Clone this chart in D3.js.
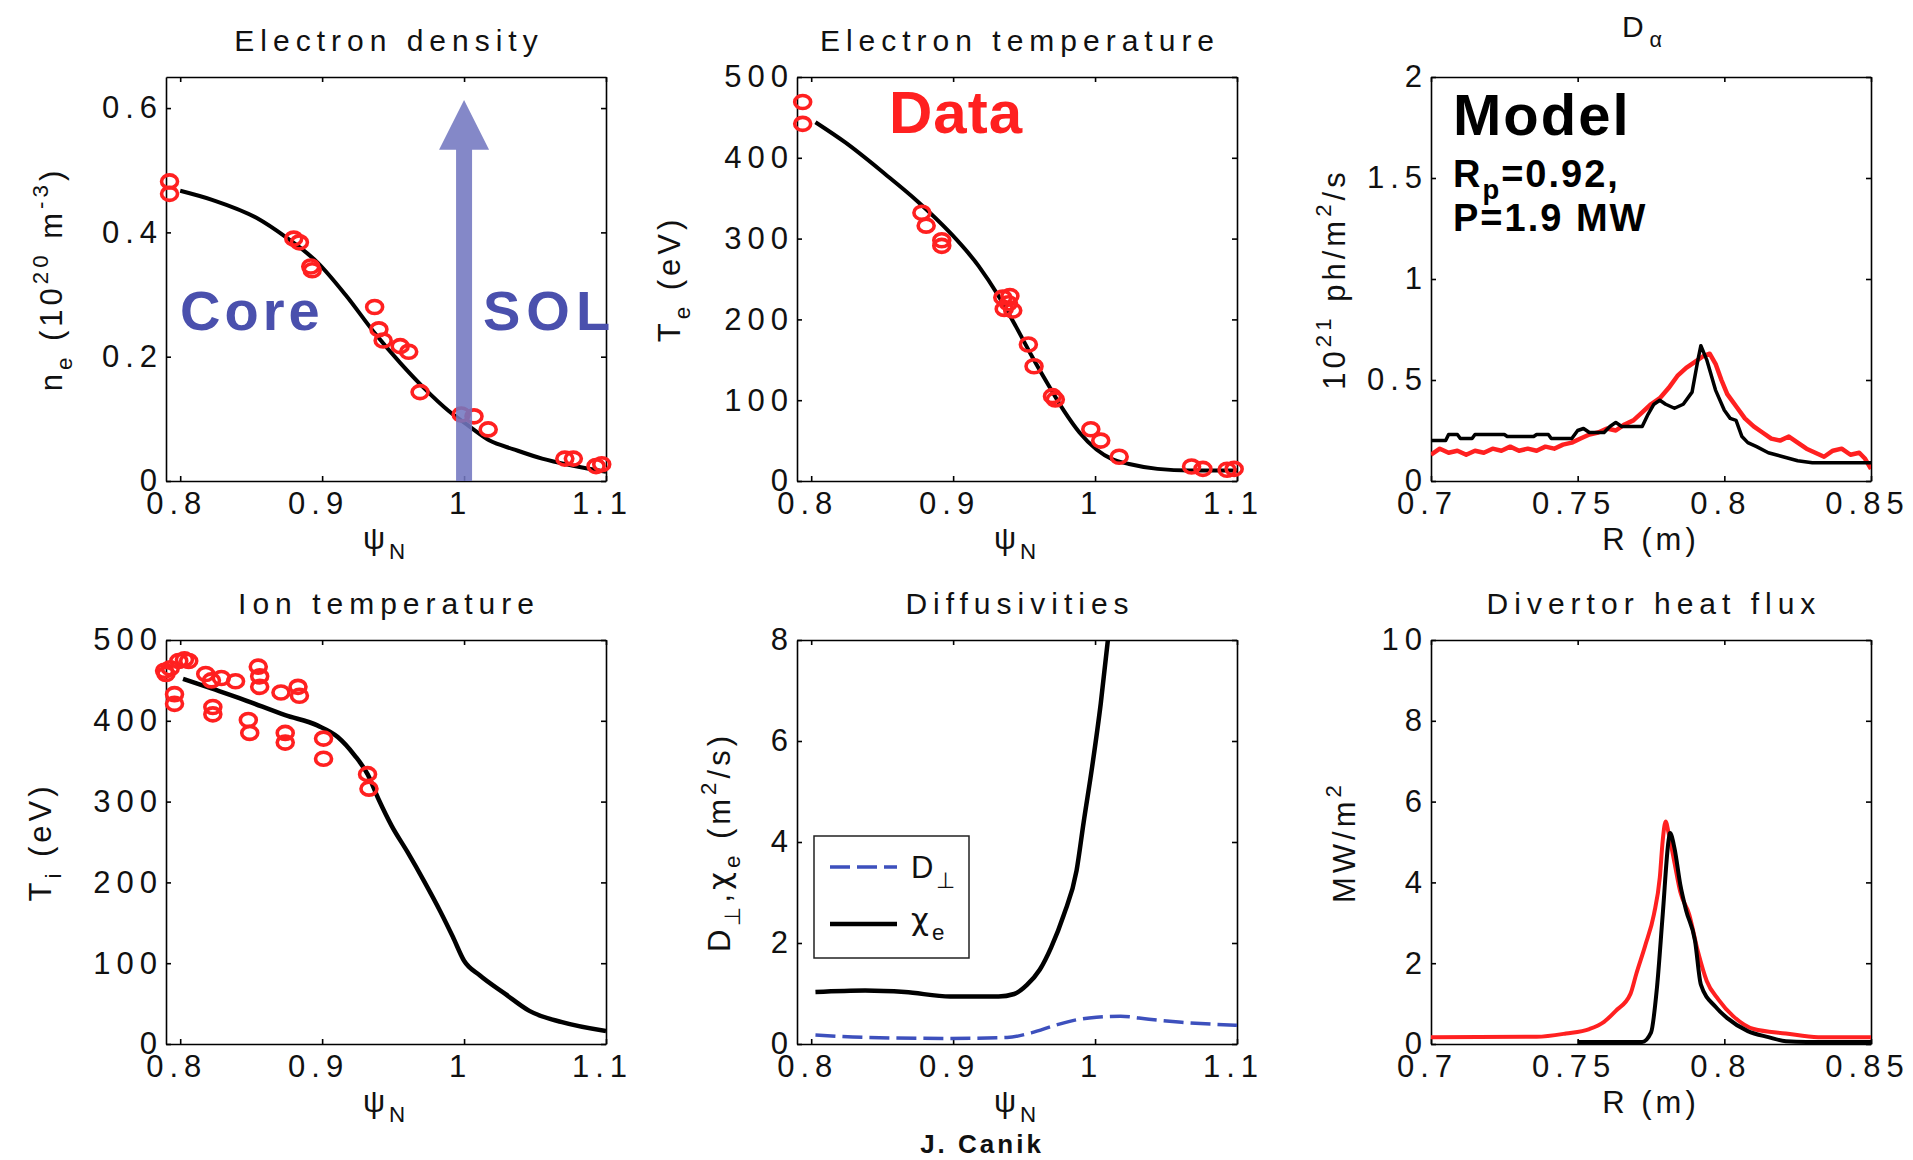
<!DOCTYPE html>
<html lang="en">
<head>
<meta charset="utf-8">
<script src="https://d3js.org/d3.v7.min.js"></script>
<style>
  body { margin: 0; background: #fff; }
  svg text { font-family: "Liberation Sans", Arial, sans-serif; fill: #111; }
  .axis .domain, .axis line { stroke: #000; stroke-width: 1.6; }
  .axis text { font-size: 31px; letter-spacing: 6px; fill: #111; }
  .title { font-size: 30px; letter-spacing: 6px; }
  .lab { font-size: 31px; letter-spacing: 4px; }
  .greek { font-family: "DejaVu Sans", sans-serif; }
</style>
</head>
<body>
<svg id="fig" width="1913" height="1160"></svg>
<script>
// ---- data ----
const psiTicks = [0.8, 0.9, 1, 1.1];
const rTicks = [0.7, 0.75, 0.8, 0.85];

// electron density (1e20 m^-3)
const neModel = [[0.800,0.467],[0.823,0.452],[0.854,0.423],[0.874,0.393],[0.897,0.351],[0.917,0.298],[0.937,0.238],[0.955,0.190],[0.972,0.149],[0.989,0.113],[1.003,0.089],[1.018,0.065],[1.035,0.051],[1.055,0.036],[1.076,0.025],[1.100,0.015]];
const neData = [[0.7925,0.482],[0.7925,0.462],[0.880,0.390],[0.884,0.384],[0.892,0.345],[0.893,0.339],[0.937,0.280],[0.940,0.244],[0.943,0.226],[0.955,0.217],[0.961,0.208],[0.969,0.143],[0.998,0.107],[1.007,0.104],[1.017,0.083],[1.071,0.036],[1.077,0.036],[1.093,0.024],[1.097,0.027]];
const sepArrow = {psi: 1.0, base: 0.533, tip: 0.613};

// electron temperature (eV)
const teModel = [[0.803,444],[0.824,419],[0.852,380],[0.875,346],[0.898,307],[0.918,266],[0.932,229],[0.944,192],[0.955,156],[0.967,119],[0.978,87],[0.989,60],[1.001,39],[1.012,27],[1.024,21],[1.044,15],[1.067,13],[1.100,13]];
const teData = [[0.794,469],[0.794,442],[0.878,332],[0.881,316],[0.892,298],[0.892,291],[0.935,227],[0.939,220],[0.942,211],[0.940,229],[0.936,213],[0.953,169],[0.957,142],[0.970,105],[0.972,101],[0.997,64],[1.004,50],[1.017,30],[1.068,18],[1.076,15],[1.093,14],[1.098,15]];

// D-alpha (1e21 ph/m^2/s)
const daData = [[0.700,0.13],[0.703,0.16],[0.706,0.14],[0.709,0.15],[0.712,0.13],[0.715,0.15],[0.718,0.14],[0.721,0.16],[0.724,0.15],[0.727,0.17],[0.730,0.15],[0.733,0.16],[0.736,0.15],[0.739,0.17],[0.742,0.16],[0.745,0.18],[0.748,0.19],[0.751,0.21],[0.754,0.23],[0.757,0.24],[0.760,0.26],[0.763,0.25],[0.766,0.28],[0.769,0.30],[0.772,0.34],[0.775,0.38],[0.778,0.41],[0.781,0.46],[0.784,0.52],[0.787,0.56],[0.790,0.59],[0.793,0.62],[0.795,0.63],[0.797,0.58],[0.799,0.50],[0.801,0.43],[0.804,0.37],[0.807,0.31],[0.810,0.27],[0.813,0.24],[0.816,0.21],[0.819,0.20],[0.822,0.22],[0.825,0.19],[0.828,0.16],[0.831,0.14],[0.834,0.12],[0.837,0.15],[0.840,0.16],[0.843,0.13],[0.846,0.14],[0.848,0.11],[0.850,0.06]];
const daModel = [[0.700,0.20],[0.705,0.20],[0.706,0.23],[0.709,0.23],[0.710,0.21],[0.714,0.21],[0.715,0.23],[0.725,0.23],[0.726,0.22],[0.735,0.22],[0.736,0.23],[0.740,0.23],[0.741,0.21],[0.748,0.21],[0.750,0.25],[0.752,0.26],[0.754,0.24],[0.759,0.24],[0.761,0.27],[0.763,0.29],[0.765,0.27],[0.772,0.27],[0.774,0.33],[0.776,0.38],[0.778,0.40],[0.780,0.38],[0.783,0.36],[0.786,0.38],[0.789,0.44],[0.791,0.60],[0.792,0.67],[0.794,0.60],[0.797,0.45],[0.800,0.35],[0.802,0.31],[0.804,0.30],[0.806,0.22],[0.808,0.19],[0.811,0.17],[0.815,0.14],[0.820,0.12],[0.825,0.10],[0.830,0.09],[0.850,0.09]];

// ion temperature (eV)
const tiModel = [[0.802,452],[0.822,440],[0.845,426],[0.874,407],[0.897,394],[0.911,380],[0.923,357],[0.932,334],[0.940,302],[0.949,270],[0.960,238],[0.972,201],[0.983,165],[0.992,133],[1.000,103],[1.011,85],[1.029,62],[1.046,41],[1.069,27],[1.100,16]];
const tiData = [[0.789,462],[0.793,465],[0.799,474],[0.803,476],[0.806,474],[0.790,458],[0.796,433],[0.796,421],[0.818,458],[0.822,450],[0.829,453],[0.823,417],[0.823,408],[0.839,449],[0.848,401],[0.849,385],[0.855,467],[0.856,455],[0.856,442],[0.871,435],[0.874,385],[0.874,373],[0.883,442],[0.884,431],[0.901,378],[0.901,353],[0.932,334],[0.933,316]];

// diffusivities (m^2/s)
const chiE = [[0.803,1.03],[0.838,1.06],[0.866,1.03],[0.898,0.94],[0.932,0.94],[0.943,0.99],[0.952,1.17],[0.961,1.47],[0.969,1.91],[0.978,2.56],[0.987,3.44],[0.992,4.40],[0.998,5.50],[1.004,6.74],[1.009,7.99]];
const dPerp = [[0.803,0.18],[0.838,0.13],[0.895,0.11],[0.938,0.13],[0.955,0.22],[0.972,0.37],[0.987,0.48],[1.001,0.53],[1.018,0.55],[1.038,0.49],[1.061,0.43],[1.100,0.37]];

// divertor heat flux (MW/m^2)
const qData = [[0.700,0.17],[0.736,0.18],[0.746,0.26],[0.754,0.37],[0.759,0.55],[0.763,0.82],[0.768,1.24],[0.770,1.74],[0.773,2.43],[0.776,3.21],[0.778,4.12],[0.779,5.04],[0.780,5.51],[0.781,5.22],[0.783,4.49],[0.785,3.76],[0.788,3.21],[0.791,2.29],[0.794,1.56],[0.798,1.10],[0.803,0.69],[0.810,0.37],[0.821,0.26],[0.832,0.17],[0.850,0.17]];
const qModel = [[0.750,0.05],[0.772,0.05],[0.775,0.28],[0.777,1.37],[0.779,3.21],[0.781,5.04],[0.7815,5.22],[0.783,4.85],[0.785,3.94],[0.787,3.30],[0.790,2.56],[0.792,1.47],[0.797,0.92],[0.801,0.64],[0.808,0.32],[0.815,0.17],[0.821,0.07],[0.828,0.05],[0.850,0.05]];

// ---- layout ----
const W = 440, H = 404;
const colX = [166, 797, 1431], rowY = [77, 640];
const RED = "#ff2020", BLUE = "#3d50bd";
const svg = d3.select("#fig");
const fmt = d => String(d);

function makePanel(c, r, xDom, yDom, xT, yT, id) {
  const g = svg.append("g").attr("transform", `translate(${colX[c]},${rowY[r]})`);
  const x = d3.scaleLinear().domain(xDom).range([0, W]);
  const y = d3.scaleLinear().domain(yDom).range([H, 0]);
  g.append("clipPath").attr("id", id).append("rect").attr("width", W).attr("height", H);
  g.append("g").attr("class", "axis").attr("transform", `translate(0,${H})`)
    .call(d3.axisBottom(x).tickValues(xT).tickFormat(fmt).tickSizeInner(-5).tickSizeOuter(0).tickPadding(11))
    .selectAll("text").attr("dx", -4);
  g.append("g").attr("class", "axis")
    .call(d3.axisLeft(y).tickValues(yT).tickFormat(fmt).tickSizeInner(-5).tickSizeOuter(0).tickPadding(3));
  g.append("g").attr("class", "axis")
    .call(d3.axisTop(x).tickValues(xT).tickFormat("").tickSizeInner(-5).tickSizeOuter(0));
  g.append("g").attr("class", "axis").attr("transform", `translate(${W},0)`)
    .call(d3.axisRight(y).tickValues(yT).tickFormat("").tickSizeInner(-5).tickSizeOuter(0));
  const plot = g.append("g").attr("clip-path", `url(#${id})`);
  return {g, x, y, plot};
}

// text with sub/superscript parts: [[text, kind, cls], ...]
function rich(sel, parts, size) {
  let shift = 0;
  parts.forEach(([t, k, cls]) => {
    const target = k === "sub" ? size * 0.32 : k === "sup" ? -size * 0.45 : 0;
    sel.append("tspan").attr("dy", target - shift).attr("class", cls || null)
      .attr("font-size", k ? size * 0.72 : size).text(t);
    shift = target;
  });
  return sel;
}

function title(p, parts) {
  rich(p.g.append("text").attr("class", "title").attr("x", W / 2 + 3).attr("y", -26)
    .attr("text-anchor", "middle"), parts, 30);
}
function xlabel(p, parts) {
  rich(p.g.append("text").attr("class", "lab").attr("x", W / 2).attr("y", H + 68)
    .attr("text-anchor", "middle"), parts, 31);
}
function ylabel(p, dx, parts) {
  rich(p.g.append("text").attr("class", "lab")
    .attr("transform", `translate(${dx},${H / 2}) rotate(-90)`)
    .attr("text-anchor", "middle"), parts, 31);
}
function curve(p, data, color, width, dash, smooth) {
  p.plot.append("path").datum(data)
    .attr("d", d3.line().x(d => p.x(d[0])).y(d => p.y(d[1]))
      .curve(smooth ? d3.curveMonotoneX : d3.curveLinear))
    .attr("fill", "none").attr("stroke", color).attr("stroke-width", width)
    .attr("stroke-linejoin", "round").attr("stroke-dasharray", dash || null);
}
function marks(p, data) {
  p.g.append("g").selectAll("ellipse").data(data).join("ellipse")
    .attr("cx", d => p.x(d[0])).attr("cy", d => p.y(d[1]))
    .attr("rx", 8).attr("ry", 6.5).attr("fill", "none")
    .attr("stroke", RED).attr("stroke-width", 3.6);
}
const psiN = [["\u03C8", ""], ["N", "sub"]];

// ---- panel 1: electron density ----
const p1 = makePanel(0, 0, [0.79, 1.1], [0, 0.65], psiTicks, [0, 0.2, 0.4, 0.6], "c1");
title(p1, [["Electron density", ""]]);
xlabel(p1, psiN);
ylabel(p1, -104, [["n", ""], ["e", "sub"], [" (10", ""], ["20", "sup"], [" m", ""], ["-3", "sup"], [")", ""]]);
curve(p1, neModel, "#000", 4, null, true);
marks(p1, neData);
{
  const ax = p1.x(sepArrow.psi), y0 = p1.y(0), yb = p1.y(sepArrow.base), yt = p1.y(sepArrow.tip);
  p1.g.append("path")
    .attr("d", `M${ax - 8},${y0} L${ax - 8},${yb} L${ax - 25},${yb} L${ax},${yt} L${ax + 25},${yb} L${ax + 8},${yb} L${ax + 8},${y0} Z`)
    .attr("fill", "#7377c0").attr("opacity", 0.88);
}
p1.g.append("text").attr("x", 14).attr("y", 253).attr("font-size", 56).attr("font-weight", "bold")
  .attr("letter-spacing", 4).style("fill", "#4a50ad").text("Core");
p1.g.append("text").attr("x", 317).attr("y", 253).attr("font-size", 56).attr("font-weight", "bold")
  .attr("letter-spacing", 6).style("fill", "#4a50ad").text("SOL");

// ---- panel 2: electron temperature ----
const p2 = makePanel(1, 0, [0.79, 1.1], [0, 500], psiTicks, [0, 100, 200, 300, 400, 500], "c2");
title(p2, [["Electron temperature", ""]]);
xlabel(p2, psiN);
ylabel(p2, -117, [["T", ""], ["e", "sub"], [" (eV)", ""]]);
curve(p2, teModel, "#000", 4, null, true);
marks(p2, teData);
p2.g.append("text").attr("x", 92).attr("y", 56).attr("font-size", 60).attr("font-weight", "bold")
  .attr("letter-spacing", 1).style("fill", RED).text("Data");

// ---- panel 3: D-alpha ----
const p3 = makePanel(2, 0, [0.7, 0.85], [0, 2], rTicks, [0, 0.5, 1, 1.5, 2], "c3");
rich(p3.g.append("text").attr("class", "title").attr("x", W / 2 - 6).attr("y", -40)
  .attr("text-anchor", "middle"), [["D", ""], ["\u03B1", "sub"]], 30);
p3.g.append("text").attr("class", "lab").attr("x", W / 2).attr("y", H + 69)
  .attr("text-anchor", "middle").text("R (m)");
ylabel(p3, -86, [["10", ""], ["21", "sup"], [" ph/m", ""], ["2", "sup"], ["/s", ""]]);
curve(p3, daData, RED, 4.5);
curve(p3, daModel, "#000", 3.5);
p3.g.append("text").attr("x", 22).attr("y", 58).attr("font-size", 58).attr("font-weight", "bold")
  .attr("letter-spacing", 2).style("fill", "#000").text("Model");
rich(p3.g.append("text").attr("x", 22).attr("y", 110).attr("font-weight", "bold")
  .attr("letter-spacing", 2).style("fill", "#000"), [["R", ""], ["p", "sub"], ["=0.92,", ""]], 38);
p3.g.append("text").attr("x", 22).attr("y", 154).attr("font-size", 38).attr("font-weight", "bold")
  .attr("letter-spacing", 2).style("fill", "#000").text("P=1.9 MW");

// ---- panel 4: ion temperature ----
const p4 = makePanel(0, 1, [0.79, 1.1], [0, 500], psiTicks, [0, 100, 200, 300, 400, 500], "c4");
title(p4, [["Ion temperature", ""]]);
xlabel(p4, psiN);
ylabel(p4, -115, [["T", ""], ["i", "sub"], [" (eV)", ""]]);
curve(p4, tiModel, "#000", 4.5, null, true);
marks(p4, tiData);

// ---- panel 5: diffusivities ----
const p5 = makePanel(1, 1, [0.79, 1.1], [0, 8], psiTicks, [0, 2, 4, 6, 8], "c5");
title(p5, [["Diffusivities", ""]]);
xlabel(p5, psiN);
ylabel(p5, -67, [["D", ""], ["\u22A5", "sub"], [",", ""], ["\u03C7", "", "greek"], ["e", "sub"], [" (m", ""], ["2", "sup"], ["/s)", ""]]);
curve(p5, dPerp, BLUE, 3.5, "20 7", true);
curve(p5, chiE, "#000", 4.5, null, true);
{
  const lg = p5.g.append("g").attr("transform", "translate(17,196)");
  lg.append("rect").attr("width", 155).attr("height", 122).attr("fill", "#fff")
    .attr("stroke", "#222").attr("stroke-width", 1.5);
  lg.append("line").attr("x1", 16).attr("x2", 83).attr("y1", 31).attr("y2", 31)
    .attr("stroke", BLUE).attr("stroke-width", 3.5).attr("stroke-dasharray", "20 7");
  lg.append("line").attr("x1", 16).attr("x2", 83).attr("y1", 88).attr("y2", 88)
    .attr("stroke", "#000").attr("stroke-width", 4.5);
  rich(lg.append("text").attr("x", 97).attr("y", 42).attr("letter-spacing", 3), [["D", ""], ["\u22A5", "sub"]], 31);
  rich(lg.append("text").attr("x", 97).attr("y", 94).attr("letter-spacing", 3), [["\u03C7", "", "greek"], ["e", "sub"]], 31);
}

// ---- panel 6: divertor heat flux ----
const p6 = makePanel(2, 1, [0.7, 0.85], [0, 10], rTicks, [0, 2, 4, 6, 8, 10], "c6");
title(p6, [["Divertor heat flux", ""]]);
p6.g.append("text").attr("class", "lab").attr("x", W / 2).attr("y", H + 69)
  .attr("text-anchor", "middle").text("R (m)");
ylabel(p6, -76, [["MW/m", ""], ["2", "sup"]]);
curve(p6, qData, RED, 4, null, true);
curve(p6, qModel, "#000", 4, null, true);

// credit
svg.append("text").attr("x", 982).attr("y", 1153).attr("text-anchor", "middle")
  .attr("font-size", 26).attr("font-weight", "bold").attr("letter-spacing", 3).text("J. Canik");
</script>
</body>
</html>
